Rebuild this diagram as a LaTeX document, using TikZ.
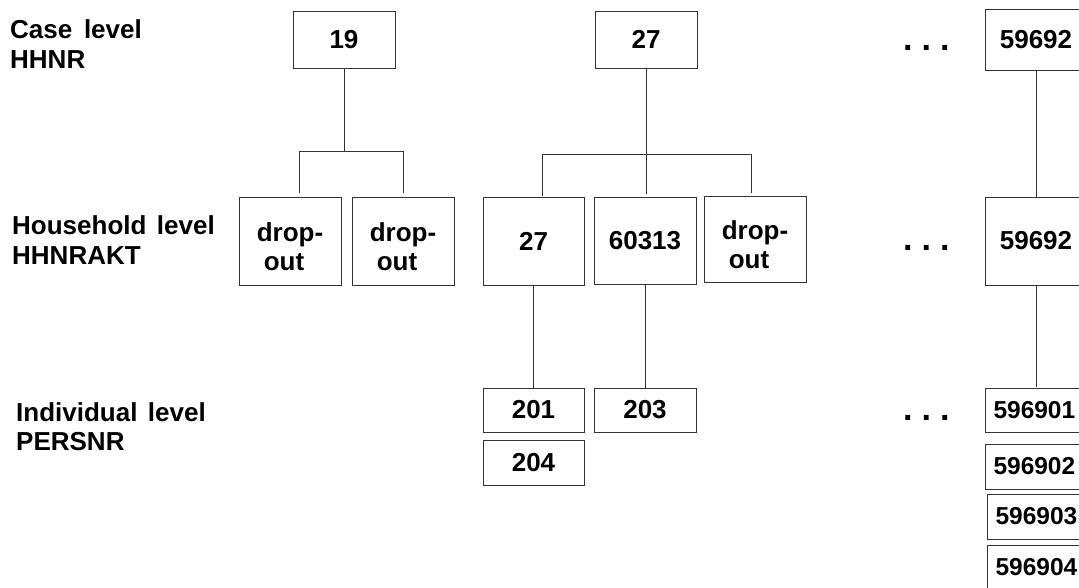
\documentclass[tikz,border=0pt]{standalone}
\usepackage{fontspec}
\setmainfont{Liberation Sans}
\begin{document}
\begin{tikzpicture}[x=1pt,y=-1pt,
  every node/.style={font=\fontsize{26}{29}\selectfont\bfseries, inner sep=0pt},
  box/.style={draw=black!80, line width=1pt, align=center, minimum width=102pt},
  idbox/.style={draw=black!80, line width=1pt, anchor=west, text width=86pt,
    align=left, inner xsep=8pt, font=\fontsize{24.5}{29}\selectfont\bfseries},
  droptext/.style={align=center},
  level/.style={anchor=base west},
  link/.style={draw=black!80, line width=1pt},
  dots/.style={anchor=base west, font=\fontsize{34}{34}\selectfont\bfseries}]
\useasboundingbox (0,0) rectangle (1079,587);
\clip (0,0) rectangle (1079,587);

% level labels
\node[level] (lc1) at (10,38) {Case\hspace{0.45em}level};
\node[level] (lc2) at (10,68) {HHNR};
\node[level] (lh1) at (12,234) {Household\hspace{0.4em}level};
\node[level] (lh2) at (12,264.5) {HHNRAKT};
\node[level] (li1) at (16,421) {Individual\hspace{0.4em}level};
\node[level] (li2) at (16,450) {PERSNR};

% continuation marks
\node[dots] (d1) at (903,50.5) {.\hspace{9pt}.\hspace{9pt}.};
\node[dots] (d2) at (903,250.5) {.\hspace{9pt}.\hspace{9pt}.};
\node[dots] (d3) at (903,420.5) {.\hspace{9pt}.\hspace{9pt}.};

% case level
\node[box, minimum height=57pt] (c19) at (344,39.5) {19};
\node[box, minimum height=57pt] (c27) at (646,39.5) {27};
\node[box, minimum height=61pt] (c59692) at (1036,39.5) {59692};

% household level
\node[box, minimum height=88pt] (h19a) at (290,241) {};
\node[box, minimum height=88pt] (h19b) at (403,241) {};
\node[box, minimum height=88pt, minimum width=101pt] (h27) at (533.5,241) {27};
\node[box, minimum height=87pt] (h60313) at (645,240.5) {60313};
\node[box, minimum height=86pt] (h27c) at (755,239) {};
\node[box, minimum height=88pt] (h59692) at (1036,241) {59692};

% two-line texts of the drop-out boxes
\node[droptext] (t19a) at ([yshift=-5.5pt]h19a.center) {drop-\\out\hspace*{12pt}};
\node[droptext] (t19b) at ([yshift=-5.5pt]h19b.center) {drop-\\out\hspace*{12pt}};
\node[droptext] (t27c) at ([yshift=-5.5pt]h27c.center) {drop-\\out\hspace*{12pt}};

% individual level
\node[box, minimum height=44pt, minimum width=101pt] (p201) at (533.5,410) {201};
\node[box, minimum height=44pt] (p203) at (645,410) {203};
\node[box, minimum height=45pt, minimum width=101pt] (p204) at (533.5,462.5) {204};
\node[idbox, minimum height=44pt] (p596901) at (985,410) {596901};
\node[idbox, minimum height=45pt] (p596902) at (985,466.5) {596902};
\node[idbox, minimum height=45pt] (p596903) at (987,516.5) {596903};
\node[idbox, minimum height=45pt] (p596904) at (987,567.5) {596904};

% branch points and line ends
\coordinate (b19) at (344,151);
\coordinate (b19l) at (299,151);
\coordinate (b19r) at (403,151);
\coordinate (e19l) at (299,193);
\coordinate (e19r) at (403,193);
\coordinate (b27) at (646,154);
\coordinate (b27l) at (542,154);
\coordinate (b27r) at (751,154);
\coordinate (e27l) at (542,196);
\coordinate (e27m) at (646,194);
\coordinate (e27r) at (751,193);
\coordinate (e59692) at (1036,387);

% connectors
\draw[link] (c19.south) -- (b19);
\draw[link] (e19l) -- (b19l) -- (b19r) -- (e19r);
\draw[link] (c27.south) -- (b27);
\draw[link] (e27l) -- (b27l) -- (b27r) -- (e27r);
\draw[link] (b27) -- (e27m);
\draw[link] (c59692.south) -- (h59692.north);
\draw[link] (h27.south) -- (p201.north);
\draw[link] (h60313.south) -- (p203.north);
\draw[link] (h59692.south) -- (e59692);
\end{tikzpicture}
\end{document}
